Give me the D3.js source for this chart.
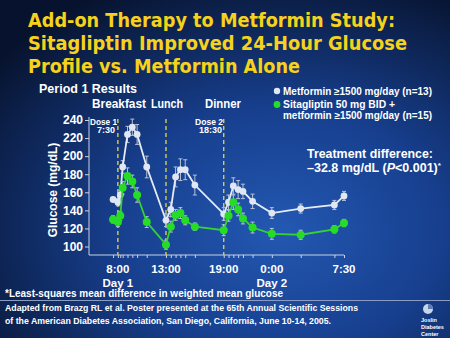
<!DOCTYPE html>
<meta charset="utf-8">
<script src="https://d3js.org/d3.v7.min.js"></script>
<style>
body { margin: 0; background: #0a1838; }
svg { display: block; font-family: "Liberation Sans", Arial, sans-serif; font-weight: bold; }
</style>
<div id="chart"></div>
<script>
// hours from midnight of day 1 (24 = 0:00 day 2)
var times = [7.5, 8, 8.25, 8.5, 9, 9.5, 10, 11, 13, 13.5, 14, 14.5, 15, 16, 19, 19.5, 20, 20.5, 21, 22, 24, 27, 30.5, 31.5];
var metformin = [152, 149, 157, 188, 224, 232, 224, 188, 129, 141, 177, 185, 185, 168, 136, 149, 167, 163, 161, 150, 137, 142, 146, 156];
var metforminErr = [0, 4, 5, 7, 9, 9, 11, 12, 7, 8, 11, 12, 11, 11, 7, 8, 9, 10, 8, 8, 6, 5, 5, 5];
var sitagliptin = [130, 127, 134, 165, 178, 172, 157, 127, 102, 122, 135, 137, 129, 122, 118, 134, 149, 141, 131, 121, 114, 113, 119, 126];
var sitagliptinErr = [4, 5, 5, 7, 9, 7, 8, 6, 5, 6, 6, 6, 5, 4, 6, 6, 8, 7, 6, 6, 6, 5, 4, 4];
var yTicks = [100, 120, 140, 160, 180, 200, 220, 240];
var xLabels = [[8, "8:00"], [13, "13:00"], [19, "19:00"], [24, "0:00"], [31.5, "7:30"]];
var dayLabels = [[8, "Day 1"], [24, "Day 2"]];
var mealLines = [8, 13, 19];

var width = 450, height = 338;
var svg = d3.select("#chart").append("svg")
  .attr("width", width).attr("height", height);

// background
var defs = svg.append("defs");
var rg = defs.append("radialGradient").attr("id", "bg")
  .attr("cx", "62%").attr("cy", "68%").attr("r", "80%");
rg.append("stop").attr("offset", "0%").attr("stop-color", "#2358b2");
rg.append("stop").attr("offset", "45%").attr("stop-color", "#173f8e");
rg.append("stop").attr("offset", "100%").attr("stop-color", "#07132e");
svg.append("rect").attr("width", width).attr("height", height).attr("fill", "url(#bg)");

// helper for fixed-width text
function txt(x, y, s, size, opts) {
  opts = opts || {};
  var t = svg.append("text").attr("x", x).attr("y", y)
    .attr("font-size", size).attr("fill", opts.fill || "#fff")
    .attr("text-anchor", opts.anchor || "start")
    .text(s);
  if (opts.family) t.attr("font-family", opts.family);
  if (opts.len) t.attr("textLength", opts.len).attr("lengthAdjust", "spacingAndGlyphs");
  return t;
}

// title
var tf = '"DejaVu Sans Condensed", "DejaVu Sans", sans-serif';
txt(28, 27, "Add-on Therapy to Metformin Study:", 19.5, {fill: "#f6d21c", family: tf, len: 367});
txt(28, 50, "Sitagliptin Improved 24-Hour Glucose", 19.5, {fill: "#f6d21c", family: tf, len: 379});
txt(28, 73, "Profile vs. Metformin Alone", 19.5, {fill: "#f6d21c", family: tf, len: 272});

txt(39, 93, "Period 1 Results", 12, {len: 98});
txt(92, 108, "Breakfast", 12, {len: 54});
txt(151, 108, "Lunch", 12, {len: 32});
txt(205, 108, "Dinner", 12, {len: 36});

// scales
var x = d3.scaleLinear().domain([5, 31.5]).range([89, 344]);
var y = d3.scaleLinear().domain([90.6, 240]).range([255, 120]);

// axes
var yAxis = svg.append("g").attr("transform", "translate(89,0)")
  .call(d3.axisLeft(y).tickValues(yTicks).tickSize(4).tickPadding(2));
yAxis.select(".domain").attr("stroke", "#c8d2e6").attr("d", "M0,117V255");
yAxis.selectAll(".tick line").attr("stroke", "#c8d2e6");
yAxis.selectAll("text").attr("fill", "#fff").attr("font-size", 12)
  .attr("font-family", "Liberation Sans, Arial, sans-serif").attr("font-weight", "bold");

var xAxis = svg.append("g").attr("transform", "translate(0,255)")
  .call(d3.axisBottom(x).tickValues(times).tickSize(3).tickFormat(""));
xAxis.select(".domain").attr("stroke", "#c8d2e6").attr("d", "M89,0H344");
xAxis.selectAll(".tick line").attr("stroke", "#c8d2e6");

xLabels.forEach(function(d) {
  txt(x(d[0]), 273, d[1], 11.5, {anchor: "middle"});
});
dayLabels.forEach(function(d) {
  txt(x(d[0]), 287, d[1], 11.5, {anchor: "middle"});
});

svg.append("text")
  .attr("transform", "translate(57,190) rotate(-90)")
  .attr("text-anchor", "middle").attr("font-size", 12).attr("fill", "#fff")
  .text("Glucose (mg/dL)");

// dose / meal lines
svg.selectAll(".meal").data(mealLines).enter().append("line")
  .attr("x1", function(d) { return x(d); }).attr("x2", function(d) { return x(d); })
  .attr("y1", 119).attr("y2", 255)
  .attr("stroke", "#d8cc48").attr("stroke-width", 1.4).attr("stroke-dasharray", "4,3");

txt(90, 124.5, "Dose 1", 8.5, {len: 27});
txt(97, 133, "7:30", 8.5, {len: 18});
txt(195, 124.5, "Dose 2", 8.5, {len: 28});
txt(199, 133, "18:30", 8.5, {len: 23});

// series
function drawSeries(vals, errs, lineColor, fill, r) {
  var pts = times.map(function(t, i) { return {t: t, v: vals[i], e: errs[i]}; });
  var g = svg.append("g");
  var bars = g.selectAll(".eb").data(pts.filter(function(d) { return d.e > 0; })).enter().append("g");
  bars.append("line")
    .attr("x1", function(d) { return x(d.t); }).attr("x2", function(d) { return x(d.t); })
    .attr("y1", function(d) { return y(d.v + d.e); }).attr("y2", function(d) { return y(d.v - d.e); });
  bars.append("line")
    .attr("x1", function(d) { return x(d.t) - 2; }).attr("x2", function(d) { return x(d.t) + 2; })
    .attr("y1", function(d) { return y(d.v + d.e); }).attr("y2", function(d) { return y(d.v + d.e); });
  bars.append("line")
    .attr("x1", function(d) { return x(d.t) - 2; }).attr("x2", function(d) { return x(d.t) + 2; })
    .attr("y1", function(d) { return y(d.v - d.e); }).attr("y2", function(d) { return y(d.v - d.e); });
  bars.selectAll("line").attr("stroke", "#b8c2d8").attr("stroke-width", 1);

  g.append("path").datum(pts)
    .attr("d", d3.line().x(function(d) { return x(d.t); }).y(function(d) { return y(d.v); }))
    .attr("fill", "none").attr("stroke", lineColor).attr("stroke-width", 1.8);
  g.selectAll("circle").data(pts).enter().append("circle")
    .attr("cx", function(d) { return x(d.t); }).attr("cy", function(d) { return y(d.v); })
    .attr("r", r).attr("fill", fill);
}
drawSeries(metformin, metforminErr, "#e6ecf6", "#dfe7f4", 3.4);
drawSeries(sitagliptin, sitagliptinErr, "#35d135", "#27dc27", 4);

// legend
svg.append("circle").attr("cx", 277).attr("cy", 91).attr("r", 3.2).attr("fill", "#dfe7f4");
txt(283, 95, "Metformin \u22651500 mg/day (n=13)", 10, {len: 149});
svg.append("circle").attr("cx", 277).attr("cy", 104.5).attr("r", 3.4).attr("fill", "#27dc27");
txt(283, 108, "Sitagliptin 50 mg BID +", 10, {len: 112});
txt(283, 119, "metformin \u22651500 mg/day (n=15)", 10, {len: 149});

// treatment difference
txt(307, 158, "Treatment difference:", 12.5, {len: 126});
var td = svg.append("text").attr("x", 307).attr("y", 172).attr("font-size", 12.5).attr("fill", "#fff");
td.append("tspan").text("\u201332.8 mg/dL (");
td.append("tspan").attr("font-style", "italic").text("P");
td.append("tspan").text("<0.001)");
td.append("tspan").attr("font-size", 8).attr("dy", -4).text("*");

// footnotes
txt(5, 297, "*Least-squares mean difference in weighted mean glucose", 10, {len: 278});
svg.append("line").attr("x1", 0).attr("x2", width).attr("y1", 300.5).attr("y2", 300.5)
  .attr("stroke", "#8a9cc4").attr("stroke-width", 1);
txt(5, 311, "Adapted from Brazg RL et al. Poster presented at the 65th Annual Scientific Sessions", 8.5, {len: 353});
txt(5, 323.5, "of the American Diabetes Association, San Diego, California, June 10-14, 2005.", 8.5, {len: 326});

// logo
svg.append("circle").attr("cx", 428).attr("cy", 309).attr("r", 5).attr("fill", "#c8d4ea");
svg.append("path").attr("d", "M428,304 A5,5 0 0,1 433,309 L428,309 Z").attr("fill", "#5d7fb8");
txt(421, 322, "Joslin", 5.5);
txt(421, 329, "Diabetes", 5.5);
txt(421, 336, "Center", 5.5);
</script>
